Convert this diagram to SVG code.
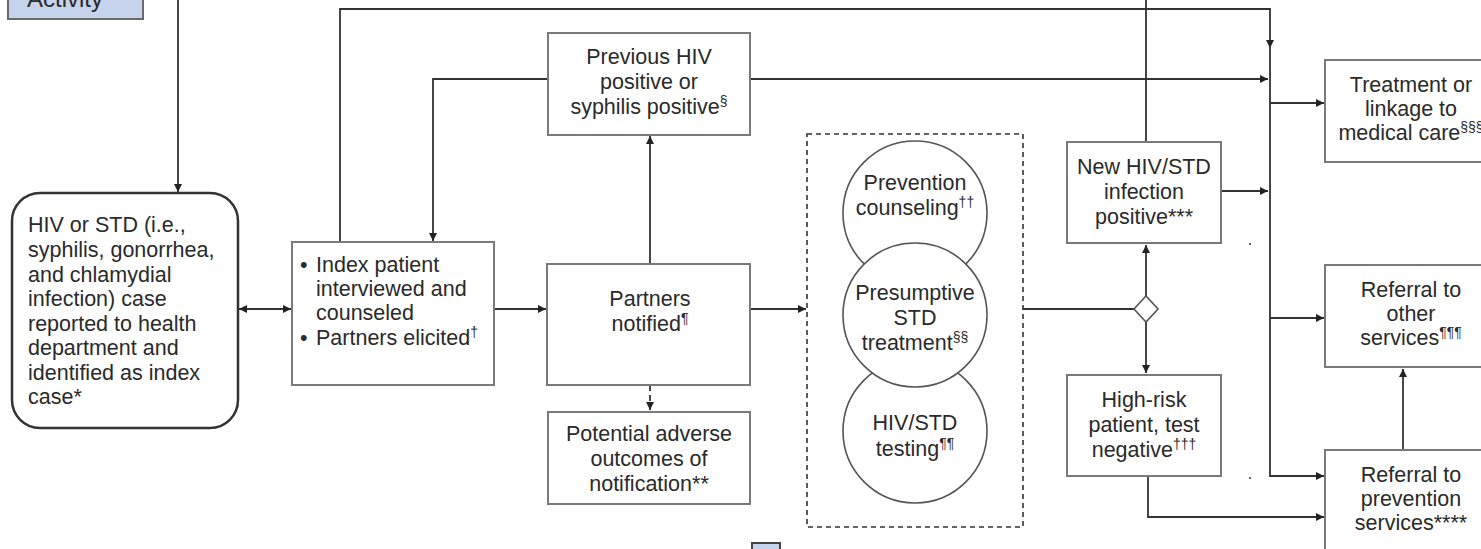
<svg xmlns="http://www.w3.org/2000/svg" width="1481" height="549" viewBox="0 0 1481 549">
<style>
.box{fill:#fff;stroke:#7a7a7a;stroke-width:2}
.circ{fill:#fff;stroke:#555;stroke-width:1.6}
.ln{fill:none;stroke:#333;stroke-width:1.8}
.t{font-family:"Liberation Sans",Arial,sans-serif;font-size:21.5px;fill:#2a2a2a}
.c{text-anchor:middle}
.sup{font-size:14px}
</style>
<defs>
<marker id="ah" viewBox="0 0 10 10" refX="10" refY="5" markerWidth="9" markerHeight="8" orient="auto-start-reverse" markerUnits="userSpaceOnUse">
<path d="M0,0 L10,5 L0,10 Z" fill="#222"/>
</marker>
</defs>
<rect width="1481" height="549" fill="#fff"/>
<g id="legend">
<rect x="8" y="-12" width="135" height="31" fill="#c6d3ec" stroke="#6a6a6a" stroke-width="2"/>
<text class="t" x="27" y="7" style="font-size:24px">Activity</text>
<rect x="752" y="543" width="28" height="20" fill="#c6d3ec" stroke="#444" stroke-width="2"/>
</g>
<g id="connectors">
<path class="ln" d="M178,0 V192" marker-end="url(#ah)"/>
<path class="ln" d="M239,309 H291" marker-start="url(#ah)" marker-end="url(#ah)"/>
<path class="ln" d="M340,242 V9 H1270 V48" marker-end="url(#ah)"/>
<path class="ln" d="M1270,48 V476 H1324" marker-end="url(#ah)"/>
<path class="ln" d="M548,79 H433 V241" marker-end="url(#ah)"/>
<path class="ln" d="M750,79 H1268" marker-end="url(#ah)"/>
<path class="ln" d="M1270,103 H1324" marker-end="url(#ah)"/>
<path class="ln" d="M1270,318 H1324" marker-end="url(#ah)"/>
<path class="ln" d="M494,309 H546" marker-end="url(#ah)"/>
<path class="ln" d="M650,264 V136" marker-end="url(#ah)"/>
<path class="ln" d="M650,385 V410" stroke-dasharray="6,4" marker-end="url(#ah)"/>
<path class="ln" d="M750,309 H806" marker-end="url(#ah)"/>
<path class="ln" d="M1023,309 H1134"/>
<path class="ln" d="M1146,296 V245" marker-end="url(#ah)"/>
<path class="ln" d="M1146,322 V373" marker-end="url(#ah)"/>
<path class="ln" d="M1146,142 V0"/>
<path class="ln" d="M1222,191 H1268" marker-end="url(#ah)"/>
<path class="ln" d="M1148,476 V517 H1324" marker-end="url(#ah)"/>
<path class="ln" d="M1403,450 V369" marker-end="url(#ah)"/>
<path d="M1134,309 L1146,296 L1158,309 L1146,322 Z" fill="#fff" stroke="#555" stroke-width="1.6"/>
<circle cx="1250" cy="244" r="1" fill="#333"/>
<circle cx="1250" cy="478" r="1" fill="#333"/>
</g>
<g id="index-case">
<rect class="box" x="12" y="193" width="226" height="235" rx="28" style="stroke:#333;stroke-width:2.5"/>
<text class="t" x="28" y="232">HIV or STD (i.e.,</text>
<text class="t" x="28" y="257">syphilis, gonorrhea,</text>
<text class="t" x="28" y="282">and chlamydial</text>
<text class="t" x="28" y="306">infection) case</text>
<text class="t" x="28" y="331">reported to health</text>
<text class="t" x="28" y="355">department and</text>
<text class="t" x="28" y="380">identified as index</text>
<text class="t" x="28" y="404">case*</text>
</g>
<g id="interview">
<rect class="box" x="292" y="242" width="202" height="143"/>
<text class="t" x="300" y="272">•</text>
<text class="t" x="316" y="272">Index patient</text>
<text class="t" x="316" y="296">interviewed and</text>
<text class="t" x="316" y="320">counseled</text>
<text class="t" x="300" y="345">•</text>
<text class="t" x="316" y="345">Partners elicited<tspan class="sup" dy="-8">†</tspan></text>
</g>
<g id="previous">
<rect class="box" x="548" y="33" width="202" height="102"/>
<text class="t c" x="649" y="64">Previous HIV</text>
<text class="t c" x="649" y="89">positive or</text>
<text class="t c" x="649" y="114">syphilis positive<tspan class="sup" dy="-8">§</tspan></text>
</g>
<g id="partners">
<rect class="box" x="547" y="264" width="203" height="121"/>
<text class="t c" x="650" y="306">Partners</text>
<text class="t c" x="650" y="331">notified<tspan class="sup" dy="-8">¶</tspan></text>
</g>
<g id="adverse">
<rect class="box" x="548" y="412" width="202" height="92"/>
<text class="t c" x="649" y="441">Potential adverse</text>
<text class="t c" x="649" y="466">outcomes of</text>
<text class="t c" x="649" y="491">notification**</text>
</g>
<g id="services">
<rect x="807" y="134" width="216" height="393" fill="none" stroke="#333" stroke-width="1.6" stroke-dasharray="5,4"/>
<circle class="circ" cx="915" cy="213" r="72"/>
<circle class="circ" cx="915" cy="431" r="72"/>
<circle class="circ" cx="915" cy="315" r="72"/>
<text class="t c" x="915" y="190">Prevention</text>
<text class="t c" x="915" y="215">counseling<tspan class="sup" dy="-8">††</tspan></text>
<text class="t c" x="915" y="300">Presumptive</text>
<text class="t c" x="915" y="325">STD</text>
<text class="t c" x="915" y="350">treatment<tspan class="sup" dy="-8">§§</tspan></text>
<text class="t c" x="915" y="430">HIV/STD</text>
<text class="t c" x="915" y="456">testing<tspan class="sup" dy="-8">¶¶</tspan></text>
</g>
<g id="new-positive">
<rect class="box" x="1067" y="142" width="154" height="101"/>
<text class="t c" x="1144" y="174">New HIV/STD</text>
<text class="t c" x="1144" y="199">infection</text>
<text class="t c" x="1144" y="224">positive***</text>
</g>
<g id="high-risk">
<rect class="box" x="1067" y="375" width="154" height="101"/>
<text class="t c" x="1144" y="407">High-risk</text>
<text class="t c" x="1144" y="432">patient, test</text>
<text class="t c" x="1144" y="457">negative<tspan class="sup" dy="-8">†††</tspan></text>
</g>
<g id="treatment">
<rect class="box" x="1325" y="60" width="172" height="102"/>
<text class="t c" x="1411" y="92">Treatment or</text>
<text class="t c" x="1411" y="116">linkage to</text>
<text class="t c" x="1411" y="140">medical care<tspan class="sup" dy="-8">§§§</tspan></text>
</g>
<g id="referral-other">
<rect class="box" x="1325" y="265" width="172" height="102"/>
<text class="t c" x="1411" y="297">Referral to</text>
<text class="t c" x="1411" y="321">other</text>
<text class="t c" x="1411" y="345">services<tspan class="sup" dy="-8">¶¶¶</tspan></text>
</g>
<g id="referral-prevention">
<rect class="box" x="1325" y="450" width="172" height="110"/>
<text class="t c" x="1411" y="482">Referral to</text>
<text class="t c" x="1411" y="506">prevention</text>
<text class="t c" x="1411" y="530">services****</text>
</g>
</svg>
